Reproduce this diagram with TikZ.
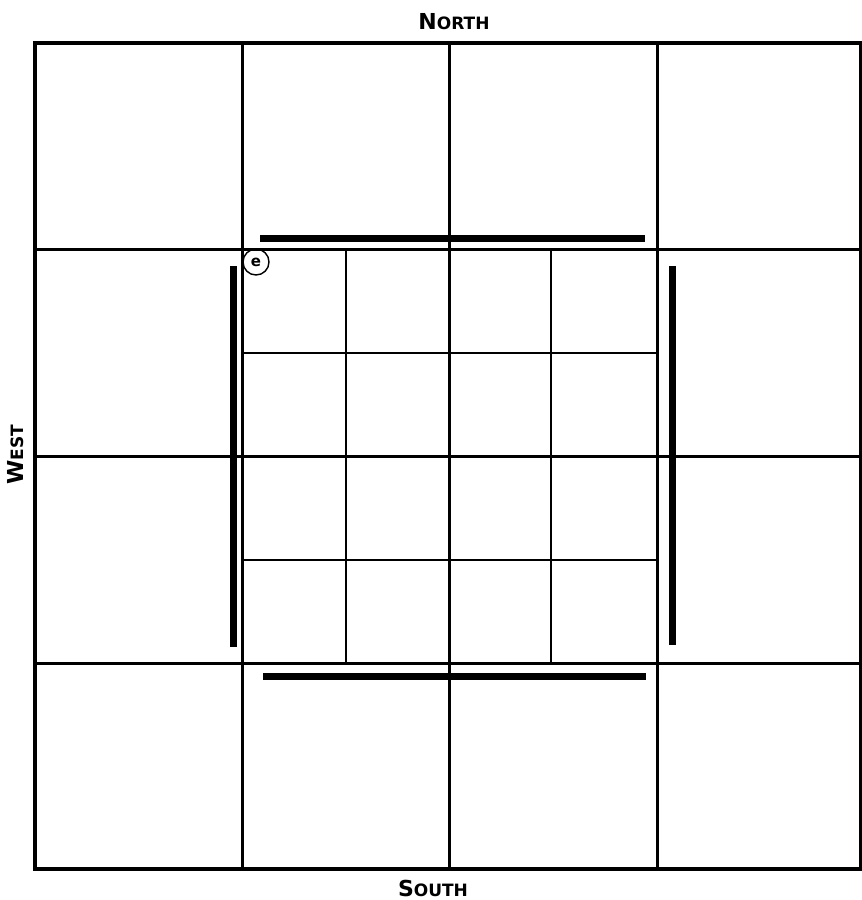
\documentclass[tikz,border=0pt]{standalone}
\usepackage{fontspec}
\setmainfont{DejaVu Sans}
\begin{document}
\begin{tikzpicture}[x=1pt,y=-1pt,
  outer/.style={line width=4pt,line cap=rect},
  major/.style={line width=3pt},
  minor/.style={line width=2.4pt},
  bar/.style={line width=7pt},
  lbl/.style={font=\bfseries, inner sep=0pt}]
\useasboundingbox (0,0) rectangle (862,900);
% coordinates of the main grid
\coordinate (TL) at (35,43);
\coordinate (BR) at (861,869);
% major vertical lines
\foreach \x in {242,449,657} \draw[major] (\x,43) -- (\x,869);
% major horizontal lines
\foreach \y in {249,456,663} \draw[major] (35,\y) -- (861,\y);
% inner grid
\foreach \x in {346,551} \draw[minor] (\x,249) -- (\x,663);
\foreach \y in {353,560} \draw[minor] (242,\y) -- (657,\y);
% outer frame
\draw[outer] (TL) rectangle (BR);
% thick bars
\draw[bar] (260,238) -- (645,238);
\draw[bar] (263,676) -- (646,676);
\draw[bar] (233,266) -- (233,647);
\draw[bar] (672,266) -- (672,645);
% circled e
\node[draw, circle, line width=1.4pt, minimum size=26pt, inner sep=0pt, font=\bfseries\fontsize{15}{15}\selectfont] (e) at (256,262) {e};
% labels
\node[lbl] (north) at (454,22) {\fontsize{22}{22}\selectfont N\fontsize{17}{17}\selectfont ORTH};
\node[lbl] (south) at (433,888) {\fontsize{22}{22}\selectfont S\fontsize{17}{17}\selectfont OUTH};
\node[lbl, rotate=90] (west) at (16,455) {\fontsize{22}{22}\selectfont W\fontsize{17}{17}\selectfont EST};
\end{tikzpicture}
\end{document}
